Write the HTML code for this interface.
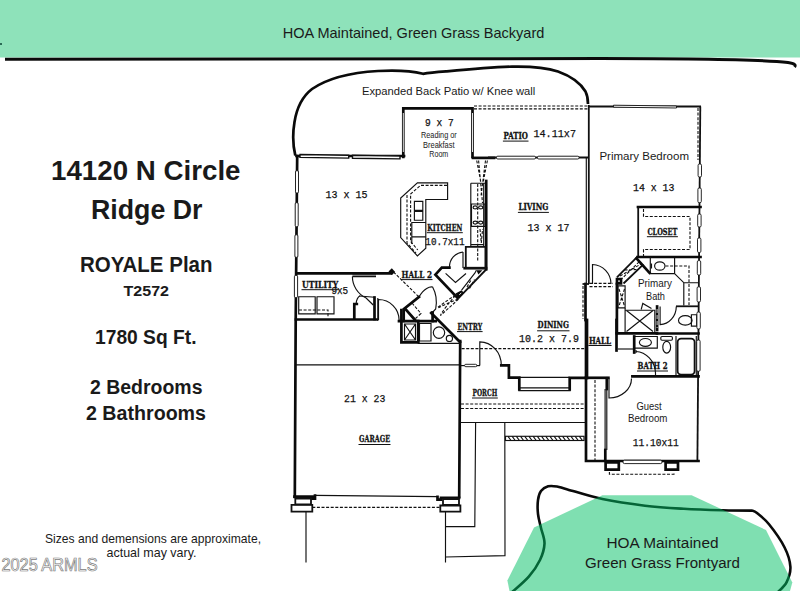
<!DOCTYPE html>
<html>
<head>
<meta charset="utf-8">
<title>14120 N Circle Ridge Dr - ROYALE Plan</title>
<style>
html,body{margin:0;padding:0;background:#fff;}
body{width:800px;height:591px;overflow:hidden;position:relative;font-family:"Liberation Sans",sans-serif;}
svg{position:absolute;left:0;top:0;display:block;}
.t{stroke:#111;stroke-width:1.15;fill:none;}
.k{stroke:#0a0a0a;stroke-width:2.7;fill:none;stroke-linecap:square;}
.m{stroke:#111;stroke-width:1.8;fill:none;}
.d{stroke:#111;stroke-width:1.1;fill:none;stroke-dasharray:3 1.6;}
.w{stroke:#111;stroke-width:0.9;fill:#fff;}
.mono{font-family:"Liberation Mono",monospace;font-weight:bold;fill:#111;}
.num{font-weight:normal;stroke:#111;stroke-width:0.25;}
.lab{font-family:"DejaVu Serif","Liberation Serif",serif;font-weight:bold;stroke:#111;stroke-width:0.3;}
.sans{font-family:"Liberation Sans",sans-serif;fill:#1a1a1a;}
.b{font-weight:bold;}
</style>
</head>
<body>
<svg width="800" height="591" viewBox="0 0 800 591">
<!-- BANNER -->
<g id="banner">
<rect x="0" y="0" width="800" height="57.5" fill="#8ee2ba"/>
<path d="M5 59.3 L600 58.6 C700 58.6 760 59.5 788 62.5 C795 63.5 796 65 794.5 67" stroke="#0a0a0a" stroke-width="3" fill="none"/>
<rect x="0" y="43" width="2" height="2" fill="#2a6a55"/>
<text class="sans" x="282.7" y="37.5" font-size="14.6" textLength="261.7" lengthAdjust="spacingAndGlyphs">HOA Maintained, Green Grass Backyard</text>
</g>
<!-- FRONTYARD BLOB -->
<g id="front">
<path d="M511.0 593.0 C514.0 590.3 524.0 582.1 528.8 576.6 C533.6 571.1 537.4 565.5 540.0 560.0 C542.6 554.5 544.3 548.9 544.5 543.6 C544.7 538.3 542.1 532.9 541.0 528.0 C539.9 523.1 538.5 518.7 538.0 514.0 C537.5 509.3 537.5 503.8 538.0 500.0 C538.5 496.2 539.3 493.3 541.0 491.0 C542.7 488.7 545.4 487.1 548.1 486.3 C550.8 485.6 553.8 486.0 557.0 486.5 C560.2 487.0 559.9 487.3 567.5 489.4 C575.1 491.5 589.5 496.4 602.4 499.1 C615.3 501.8 631.4 504.1 645.0 505.7 C658.6 507.3 670.9 508.0 683.8 508.8 C696.7 509.6 711.2 510.0 722.6 510.3 C734.0 510.6 747.1 510.6 752.0 510.6  C752.8 511.0 754.2 510.7 757.0 513.0 C759.8 515.3 764.4 518.5 769.0 524.3 C773.6 530.0 781.0 540.4 784.6 547.5 C788.2 554.6 790.1 561.1 790.4 566.9 C790.7 572.7 788.7 578.0 786.5 582.4 C784.3 586.8 778.6 591.2 777.0 593.0" stroke="#0a0a0a" stroke-width="2.6" fill="none"/>
<polygon points="602.4,495.2 691.6,495.2 766,530 792.3,582.4 790,591 509.5,591 507.4,580.5 534,527.5" fill="#00bf63" fill-opacity="0.5"/>


<text class="sans" x="606.5" y="547.5" font-size="15.2" textLength="112" lengthAdjust="spacingAndGlyphs">HOA Maintained</text>
<text class="sans" x="585" y="567.5" font-size="15.2" textLength="155" lengthAdjust="spacingAndGlyphs">Green Grass Frontyard</text>
</g>
<!-- LEFT TEXT -->
<g id="lefttext" class="sans b">
<text x="51" y="180.3" font-size="27" textLength="189.5" lengthAdjust="spacingAndGlyphs">14120 N Circle</text>
<text x="91" y="218.6" font-size="27" textLength="111.5" lengthAdjust="spacingAndGlyphs">Ridge Dr</text>
<text x="80" y="271.6" font-size="21.2" textLength="132.5" lengthAdjust="spacingAndGlyphs">ROYALE Plan</text>
<text x="123.5" y="296.2" font-size="15.5" textLength="45.5" lengthAdjust="spacingAndGlyphs">T2572</text>
<text x="95" y="343.6" font-size="19.6" textLength="101.5" lengthAdjust="spacingAndGlyphs">1780 Sq Ft.</text>
<text x="90" y="394" font-size="19.6" textLength="112.5" lengthAdjust="spacingAndGlyphs">2 Bedrooms</text>
<text x="86" y="420" font-size="19.6" textLength="120" lengthAdjust="spacingAndGlyphs">2 Bathrooms</text>
</g>
<g class="sans" font-size="12.6">
<text x="45" y="542.6" textLength="216" lengthAdjust="spacingAndGlyphs">Sizes and demensions are approximate,</text>
<text x="106.5" y="557.2" textLength="90" lengthAdjust="spacingAndGlyphs">actual may vary.</text>
</g>
<text x="1.5" y="570.5" font-family="Liberation Sans, sans-serif" font-size="17.5" fill="#fff" stroke="#7a7a7a" stroke-width="0.7" textLength="96" lengthAdjust="spacingAndGlyphs">2025 ARMLS</text>
<!-- PLAN -->
<g id="plan">
<!-- patio outline curve -->
<path d="M295.3 155.5 C293 146 292.5 134 294.5 122 C297 106 303 96 312 89 C328 78 352 72.5 378 71 C392 70.2 410 70.5 423 73.8 C430 72.6 438 72 446 71.4 C466 69.5 490 67.2 512 66.6 C530 66.2 546 67.5 558 71.5 C572 76.5 581 84 585.5 91.5 C587.5 95.5 588 100 588 104" stroke="#0a0a0a" stroke-width="2.7" fill="none"/>
<!-- left outer wall -->
<path class="k" d="M297.2 156 L295.7 320 L294.8 497" stroke-width="3"/>
<!-- top-left room top wall -->
<path class="k" d="M296.5 156 H404"/>
<!-- reading room -->
<path class="k" d="M403.3 157 V108.3 H472.5 V157" stroke-width="2.8"/>
<path class="k" d="M473 157.9 H494" stroke-width="3.6"/>
<path class="m" d="M488 157.5 H588.5"/>
<!-- patio dashed top -->
<path class="d" d="M474 106 H588"/>
<path class="d" d="M474 108.9 H588"/>
<!-- primary bedroom -->
<path class="m" d="M588.8 105 V284" stroke-width="2.5"/>
<path class="t" d="M586.3 158 V284" stroke-width="1.1"/>
<path class="m" d="M588 106.5 H701"/>
<path class="m" d="M700.3 106.5 L697.4 461" stroke-width="2.2"/>
<path class="d" d="M698 108 V160"/>
<!-- closet -->
<path class="k" d="M638 207 H700.5"/>
<path class="m" d="M638.2 207 V257"/>
<path class="k" d="M637.5 257 H700.5"/>
<path class="d" d="M643.5 209 V216.5 H690 V249.5 H643.5 V256"/>
<!-- 13x15 bottom wall / utility top -->
<path class="k" d="M296.5 273.3 H391" stroke-width="3"/>
<path d="M388.5 271.5 L391.8 268.3 L395.2 272 L391.8 275 Z" fill="#0a0a0a"/>
<!-- utility bottom -->
<path class="k" d="M296 319.5 H376.5" stroke-width="3.6"/>
<!-- garage -->
<path class="t" d="M296 364.9 H460"/>
<path class="k" d="M460.2 341 L459.2 497" stroke-width="3"/>
<path class="t" d="M315 495.4 L437.5 496.6" stroke-width="1.4"/>
<path class="k" d="M294.5 496.6 H312.5 V498.6 H315 V495.6 M437.5 496.8 V499.6 H441 V497.8 H459" stroke-width="2.4"/>
<!-- garage pillars -->
<path class="m" d="M295.3 498.5 H311 V504.3 H295.3 Z" stroke-width="2"/>
<path class="m" d="M291.5 504.8 H312.3 V511.6 H291.5 Z" stroke-width="1.6"/>
<path class="m" d="M443 499 H459 V504.8 H443 Z" stroke-width="2"/>
<path class="m" d="M440.3 505.5 H460.4 V511.6 H440.3 Z" stroke-width="1.6"/>
<path class="d" d="M312.3 507.4 H440.3" stroke-width="1.2"/>
<!-- driveway / walkway -->
<path class="t" d="M306 511.6 V562.6 M445.5 511.6 V562.6"/>
<path class="t" d="M475.6 423 L474.8 526.6 H445.5"/>
<path class="t" d="M504.8 423 L505 555.6 L445.5 557"/>
<!-- porch -->
<path class="t" d="M460 422.5 H585.5"/>
<path class="d" d="M461 404 H585"/>
<path class="d" d="M461 408.5 H585"/>
<path class="d" d="M461.6 348.6 H586"/>
<!-- hatched strip -->
<rect x="505.5" y="436.3" width="78.5" height="4.2" class="t"/>
<path class="t" d="M508.0 436.3 l3 4.2 M512.2 436.3 l3 4.2 M516.4 436.3 l3 4.2 M520.6 436.3 l3 4.2 M524.8 436.3 l3 4.2 M529.0 436.3 l3 4.2 M533.2 436.3 l3 4.2 M537.4 436.3 l3 4.2 M541.6 436.3 l3 4.2 M545.8 436.3 l3 4.2 M550.0 436.3 l3 4.2 M554.2 436.3 l3 4.2 M558.4 436.3 l3 4.2 M562.6 436.3 l3 4.2 M566.8 436.3 l3 4.2 M571.0 436.3 l3 4.2 M575.2 436.3 l3 4.2 M579.4 436.3 l3 4.2"/>
<!-- entry / dining front wall -->
<path class="t" d="M461 365.6 H480"/><rect class="w" x="464.6" y="364.3" width="12.2" height="2.4" rx="1.2"/>
<path class="t" d="M479.8 365.5 V341.8 A21.5 23.6 0 0 1 501.3 365.4"/>
<path class="k" d="M501.3 365.3 H508.9 V377.7 H519.3 V389.5 M569.7 389.5 V377.9 H586"/>
<path class="t" d="M519.3 377.3 H569.7 M519.3 387.9 H569.7 M518.3 390.6 H570.7"/>
<!-- guest bedroom -->
<path class="k" d="M586 377.8 H608.4" stroke-width="3"/>
<path class="k" d="M606.8 378.3 V389" stroke-width="2.2"/>
<path class="k" d="M586 320 V461 H698.5" stroke-width="3"/>
<path class="d" d="M595 380 V460" stroke-width="1.4" stroke-dasharray="4 2"/>
<path class="t" d="M605.1 389 V461 M606.8 389 V450"/>
<path class="k" d="M605.3 450 V460" stroke-width="2.2"/>
<path class="t" d="M609 378.5 V398 A22.5 19.5 0 0 0 631.5 378.5"/>
<rect class="w" x="623" y="460.2" width="39" height="3.4" rx="1.5"/>
<path class="k" d="M605.6 462.5 H618.8 V469.6 H605.6 Z M665.6 462.5 H678 V469.6 H665.6 Z" stroke-width="2.2"/>
<path class="d" d="M609.4 472 V474.2 H674 V472" stroke-width="1.3" stroke-dasharray="3.5 1.6"/>
<!-- kitchen island -->
<path class="t" d="M417.4 182.8 H447.6 V199.5 H425.8 V248.3 L417.4 255.9 L400.7 237.6 V198 Z"/>
<path class="d" d="M447 185.4 H420.5 L410.6 194 V241.5 L417.8 250"/>
<path class="d" d="M407 195 V243 L416 253"/>
<path class="t" d="M414.4 201.3 H422.8 V210.2 H414.4 Z M414.4 211.3 H422.8 V220.2 H414.4 Z"/>
<path class="t" d="M425.8 222.5 H411.8 V236.8 H425.8 M411.8 236.8 V244"/>
<!-- kitchen right counter -->
<path class="k" d="M486.2 181 V269.3"/>
<path class="m" d="M486.6 269 L458.3 298.3"/>
<path class="k" d="M464.7 268.2 H486" stroke-width="3"/>
<path class="t" d="M470.8 183.2 H485 M470.8 183.2 V246.8"/>
<path class="t" d="M471.5 204 H485 V226.5 H471.5 Z"/>
<ellipse class="t" cx="475.2" cy="207.4" rx="2.1" ry="1.5"/><ellipse class="t" cx="480.7" cy="207.4" rx="2.1" ry="1.5"/>
<ellipse class="t" cx="475.2" cy="222.6" rx="2.1" ry="1.5"/><ellipse class="t" cx="480.7" cy="222.6" rx="2.1" ry="1.5"/>
<path class="d" d="M477.7 184 V262" stroke-width="1.3"/>
<path class="t" d="M483.7 183.2 V246"/>
<path class="t" d="M471 226.4 H484 M471 244.6 H484"/>
<path class="d" d="M480 229 L481.3 243 L482.6 229" stroke-width="1.2"/>
<path class="m" d="M465.8 246.8 H485.5 V268 H465.8 Z"/>
<path class="d" d="M476.7 160.5 L481 183 M487.4 160.5 L483 183 M478.6 160.5 L482.5 203 M485.5 160.5 L481 196" stroke-width="1.3"/>

<!-- pantry -->
<path class="k" d="M449.4 267.6 H441.8 L435.4 274.7 L457.3 297.6" stroke-width="3"/>
<path d="M455.5 293.5 L461.6 290.3 L463.9 293 L458.6 299.1 Z" fill="#0a0a0a"/>
<path d="M459.3 294.8 L461.3 292.8" stroke="#fff" stroke-width="0.9"/>
<path d="M476.4 270.2 H482.4 L478.4 274.4 Z" fill="#0a0a0a"/>
<path class="t" d="M461.6 290.2 L474.8 273.2 L476.4 270.2"/>
<path class="d" d="M467 287 L471 280 M469.5 288.5 L474.5 279.5" stroke-width="1.3"/>
<path class="t" d="M463 252 C455 253 449.5 259 449.4 267.3 M445.6 273.4 L455.5 282.5 L466 273.5 M463 252 V268"/>
<path class="d" d="M455.5 294.8 L436.8 307.9 M458.6 299.2 L440.3 315.6 M455.5 295.5 C449 303 444 309 440.5 315 M458 299 C451 302 443 305 437.2 308.5" stroke-width="1.25"/>
<!-- hall 2 dashed + closets -->
<path class="d" d="M393.5 272 L419 297"/>
<path class="k" d="M419 297 L403.7 309.2 V321"/>
<path class="k" d="M405.5 309.2 L415.5 320.5"/>
<path class="t" d="M419 297 C424 288 430 286.5 432.6 287 C436.5 294 437 302 435.7 309 L431.5 313.5"/>
<path class="d" d="M412 303 L421 313.5 L415.5 318.5"/>
<path class="k" d="M431.2 313 L460 342"/>
<path class="k" d="M401.4 310 V342.3 H418" stroke-width="3"/>
<path class="t" d="M418 343.3 H460"/>
<path class="k" d="M399 321.2 H435.7" stroke-width="3"/>
<path class="k" d="M432.6 312.5 V321"/>
<path class="k" d="M418.2 321 V342"/>
<path class="t" d="M404.5 324 L415.5 340 M415.5 324 L404.5 340 M404.5 324 H415.5 V340 H404.5 Z"/>
<path class="t" d="M419.5 323.5 H431 V341 H419.5 Z"/>
<circle class="t" cx="439" cy="332.6" r="5.7"/><circle class="t" cx="449.4" cy="338.4" r="3.1"/>
<!-- utility room -->
<path class="t" d="M298.7 296.7 H315.2 V313.8 H298.7 Z M317 296.7 H334 V313.8 H317 Z"/>
<path class="d" d="M299 310 H328 V317.5"/>
<path class="t" d="M352.4 275 H376 M352.4 276.6 H376"/>
<path class="t" d="M352.4 276.6 A23.6 23.6 0 0 0 366.1 298 L373.2 305"/>
<path class="k" d="M354.3 304 V318 M354.3 304 H356.8"/>
<path class="t" d="M359.3 296 L374.5 297.3"/><path class="k" d="M374.5 297.5 V319"/>
<path class="t" d="M377.8 298 V321"/>
<path class="t" d="M356.2 303.4 C356.5 299.5 358 297 360.2 295.8"/>
<path class="t" d="M378.5 320 V299.5 A20.6 20.6 0 0 1 399.1 320.1"/>
<!-- living/primary wall lower part & niche -->
<path class="k" d="M587 320 V378"/>
<path class="k" d="M585.5 284 V320" stroke-width="3"/>
<path class="d" d="M583 286 V319"/>
<path class="m" d="M582.5 284 H589"/>
<!-- primary door -->
<path class="t" d="M592.5 284 V264.5 A19 19.5 0 0 1 611 284"/>
<path class="d" d="M589.5 283.4 H613 M589.5 286.6 H613"/>
<path class="k" d="M617 279 H621 V283.4 H617 Z" stroke-width="1.6" fill="#0a0a0a"/>
<!-- diagonal shower/closet -->
<path class="m" d="M616.9 277.3 L637 257.2 M623.5 283.5 L643.4 264.3"/>
<path class="d" d="M620.5 280 L639.5 261.5 M620 276 L641 264 M624.5 270 L636.5 269.5"/>
<path class="k" d="M636.5 258.4 L649.5 272.8" stroke-width="3"/>
<!-- small X box -->
<path class="t" d="M618 285.8 H625.1 V307.9 H618 Z"/>
<path class="d" d="M619 289 L624.5 306 M624.5 289 L619 306"/>
<!-- primary bath walls -->
<path class="k" d="M616.9 284 V333" stroke-width="2.4"/>
<path class="k" d="M616.9 333.4 H657" stroke-width="3.3"/>
<path class="t" d="M625.1 310.2 H654.8 V332 M625.1 307.9 V332"/>
<path class="t" d="M626.5 310.5 L653 331.5 M653 310.5 L626.5 331.5"/>
<path class="k" d="M657.1 306.5 V330" stroke-width="3"/>
<path d="M657.1 309 V328" stroke="#fff" stroke-width="0.8" stroke-dasharray="4 2"/>
<path class="t" d="M660.1 306.5 V324.6 A16.5 18.3 0 0 0 676.3 306.5"/>
<path class="t" d="M641.2 309.5 L642.8 303.4 L651.5 308.5"/>
<!-- primary vanity -->
<path class="t" d="M650.3 257 V273.6 H674.6 V258 M674.6 273.6 L683.8 282.7 V305.6 M683.8 282.7 H698.5"/>
<path class="m" d="M676 306.3 H698.5"/>
<ellipse class="t" cx="659.8" cy="266" rx="5.2" ry="4.2"/>
<path class="t" d="M651.5 263.5 V268.5"/>
<path class="d" d="M665.5 266 H689 V305" stroke-width="1.5" stroke-dasharray="4 2"/>
<!-- primary toilet -->
<ellipse class="t" cx="685.3" cy="320.4" rx="6.8" ry="4.7"/>
<path class="t" d="M691.4 314.7 H696.7 V326.1 H691.4 Z"/>
<path class="k" d="M657 333.5 H698.5" stroke-width="3.3"/>
<!-- bath 2 -->
<path class="k" d="M616.5 320 V350.5"/>
<path class="t" d="M633.5 336.5 H657.3 V348.1 H633.5"/>
<path class="k" d="M634.2 336.5 V352.5" stroke-width="2.2"/>
<path class="t" d="M618 349 H633.3"/>
<ellipse class="t" cx="645.4" cy="342.4" rx="6" ry="3.9"/>
<rect class="t" x="660.8" y="336.5" width="11.6" height="3.7" rx="1.2"/>
<ellipse class="t" cx="666.7" cy="347.2" rx="3.9" ry="5.9"/>
<path class="t" d="M676 336 V375.5 M696.3 336 V375.5"/>
<rect class="m" x="677.6" y="338.6" width="17" height="36" rx="3.5" stroke-width="1.5"/>
<path class="t" d="M636 351.5 C646 352 655 361 655.5 373"/>
<path class="t" d="M636 350 V353"/>
<path class="k" d="M632.4 376.4 H698.5" stroke-width="3"/>
<path class="t" d="M655.5 373 V375"/>
<!-- windows -->
<g class="w">
<rect x="295.5" y="170.7" width="3" height="22.3" rx="1.2"/>
<rect x="295.2" y="202.7" width="3" height="24" rx="1.2"/>
<rect x="294.9" y="234.8" width="3" height="22.5" rx="1.2"/>
<rect x="294.4" y="275.5" width="3.2" height="22" rx="1.2"/>
<path d="M300 154.5 L348.7 155.2 L348.7 158.1 L300 157.4 Z" stroke-width="1.4"/>
<path d="M352.5 155.3 L400 156.1 L400 158.9 L352.5 158.2 Z" stroke-width="1.4"/>
<path d="M403.3 113 V152 M472.5 113 V152" stroke="#fff" stroke-width="0.9"/>
<rect x="496.5" y="156.2" width="39" height="2.8" rx="1.2"/>
<rect x="537.5" y="156.2" width="41.5" height="2.8" rx="1.2"/>
<path d="M613.5 105.2 L676.5 106 L676.5 108 L613.5 107.2 Z"/>
<rect x="698.1" y="164" width="3.4" height="13" rx="1.3"/>
<rect x="697.9" y="188" width="3.4" height="14.7" rx="1.3"/>
<rect x="697.7" y="214" width="3.4" height="13" rx="1.3"/>
<rect x="697.5" y="238" width="3.4" height="14.5" rx="1.3"/>
<rect x="697.3" y="260.6" width="3.4" height="14.4" rx="1.3"/>
<rect x="697.1" y="286.8" width="3.4" height="15.2" rx="1.3"/>
<rect x="696.9" y="312" width="3.4" height="17" rx="1.3"/>
<rect x="696.7" y="340" width="3.4" height="31.3" rx="1.3"/>
</g>
<!-- labels -->
<g class="mono">
<text class="num" x="325.4" y="197.5" font-size="10.3" textLength="42.1" lengthAdjust="spacingAndGlyphs" xml:space="preserve">13 x 15</text>
<text class="num" x="425" y="126" font-size="10.3" textLength="28.8" lengthAdjust="spacingAndGlyphs" xml:space="preserve">9 x 7</text>
<text class="num" x="533.4" y="137.4" font-size="10.7" textLength="42.6" lengthAdjust="spacingAndGlyphs" xml:space="preserve">14.11x7</text>
<text class="num" x="633" y="190.5" font-size="10.3" textLength="41.4" lengthAdjust="spacingAndGlyphs" xml:space="preserve">14 x 13</text>
<text class="num" x="527.4" y="230.9" font-size="10.3" textLength="42.0" lengthAdjust="spacingAndGlyphs" xml:space="preserve">13 x 17</text>
<text class="num" x="519" y="342" font-size="10.5" textLength="60.0" lengthAdjust="spacingAndGlyphs" xml:space="preserve">10.2 x 7.9</text>
<text class="num" x="425.3" y="244.6" font-size="10.9" textLength="39.3" lengthAdjust="spacingAndGlyphs" xml:space="preserve">10.7x11</text>
<text class="num" x="331.4" y="294.4" font-size="10.3" textLength="16.8" lengthAdjust="spacingAndGlyphs" xml:space="preserve">9x5</text>
<text class="num" x="344" y="401.8" font-size="10.3" textLength="41.3" lengthAdjust="spacingAndGlyphs" xml:space="preserve">21 x 23</text>
<text class="num" x="632.8" y="445.5" font-size="10.7" textLength="46.0" lengthAdjust="spacingAndGlyphs" xml:space="preserve">11.10x11</text>
<text class="lab" x="503.4" y="139" font-size="9" textLength="24.6" lengthAdjust="spacingAndGlyphs" xml:space="preserve">PATIO</text>
<path d="M502.9 141.1 H528.5" stroke="#111" stroke-width="1"/>
<text class="lab" x="518.4" y="210" font-size="9" textLength="30.0" lengthAdjust="spacingAndGlyphs" xml:space="preserve">LIVING</text>
<path d="M517.9 212.4 H548.9" stroke="#111" stroke-width="1"/>
<text class="lab" x="647.4" y="234.5" font-size="9" textLength="30.0" lengthAdjust="spacingAndGlyphs" xml:space="preserve">CLOSET</text>
<path d="M646.9 236.7 H677.9" stroke="#111" stroke-width="1"/>
<text class="lab" x="537.6" y="328.4" font-size="9" textLength="31.4" lengthAdjust="spacingAndGlyphs" xml:space="preserve">DINING</text>
<path d="M537.1 330.8 H569.5" stroke="#111" stroke-width="1"/>
<text class="lab" x="588.9" y="343.7" font-size="9" textLength="22.2" lengthAdjust="spacingAndGlyphs" xml:space="preserve">HALL</text>
<path d="M588.4 345.5 H611.6" stroke="#111" stroke-width="1"/>
<text class="lab" x="427.3" y="231" font-size="9" textLength="35.0" lengthAdjust="spacingAndGlyphs" xml:space="preserve">KITCHEN</text>
<path d="M426.8 232.7 H462.8" stroke="#111" stroke-width="1"/>
<text class="lab" x="401.5" y="277.9" font-size="9" textLength="30.5" lengthAdjust="spacingAndGlyphs" xml:space="preserve">HALL 2</text>
<path d="M401.0 279.6 H432.5" stroke="#111" stroke-width="1"/>
<text class="lab" x="302" y="287.5" font-size="9" textLength="36.3" lengthAdjust="spacingAndGlyphs" xml:space="preserve">UTILITY</text>
<path d="M301.5 289.7 H338.8" stroke="#111" stroke-width="1"/>
<text class="lab" x="457.5" y="329.8" font-size="9" textLength="24.6" lengthAdjust="spacingAndGlyphs" xml:space="preserve">ENTRY</text>
<path d="M457.0 331.6 H482.6" stroke="#111" stroke-width="1"/>
<text class="lab" x="472.5" y="395.8" font-size="9" textLength="24.8" lengthAdjust="spacingAndGlyphs" xml:space="preserve">PORCH</text>
<path d="M472.0 398 H497.8" stroke="#111" stroke-width="1"/>
<text class="lab" x="359" y="442" font-size="9" textLength="31.0" lengthAdjust="spacingAndGlyphs" xml:space="preserve">GARAGE</text>
<path d="M358.5 444.5 H390.5" stroke="#111" stroke-width="1"/>
<text class="lab" x="637.5" y="368.6" font-size="9" textLength="30.0" lengthAdjust="spacingAndGlyphs" xml:space="preserve">BATH 2</text>
<path d="M637.0 371 H668.0" stroke="#111" stroke-width="1"/>
</g>
<g class="sans">
<text x="362" y="94.6" font-size="11.3" textLength="173.3" lengthAdjust="spacingAndGlyphs">Expanded Back Patio w/ Knee wall</text>
<text x="421" y="137.8" font-size="8.2" textLength="35.8" lengthAdjust="spacingAndGlyphs">Reading or</text>
<text x="423" y="147.5" font-size="8.2" textLength="31.6" lengthAdjust="spacingAndGlyphs">Breakfast</text>
<text x="429.3" y="157" font-size="8.2" textLength="19.0" lengthAdjust="spacingAndGlyphs">Room</text>
<text x="599.4" y="159.6" font-size="11.8" textLength="89.6" lengthAdjust="spacingAndGlyphs">Primary Bedroom</text>
<text x="638" y="287" font-size="10.2" textLength="34.0" lengthAdjust="spacingAndGlyphs">Primary</text>
<text x="646" y="299.6" font-size="10.2" textLength="19.0" lengthAdjust="spacingAndGlyphs">Bath</text>
<text x="636.5" y="410.4" font-size="10.2" textLength="25.2" lengthAdjust="spacingAndGlyphs">Guest</text>
<text x="628" y="422.4" font-size="10.2" textLength="39.4" lengthAdjust="spacingAndGlyphs">Bedroom</text>
</g>

</g><!--endplan-->
</svg>
</body>
</html>
